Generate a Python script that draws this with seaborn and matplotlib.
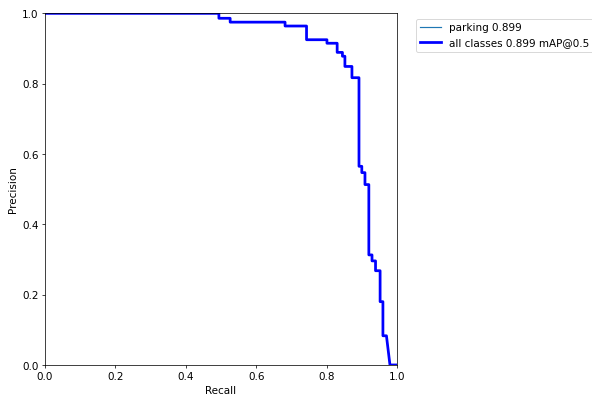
import numpy as np
import pandas as pd
import matplotlib
matplotlib.use("Agg")
import matplotlib.pyplot as plt
import seaborn as sns

# step levels: precision holds from each recall value onward
recall_steps = [0.0, 0.494, 0.526, 0.682, 0.743, 0.801, 0.83, 0.845, 0.852, 0.872,
                0.892, 0.9, 0.909, 0.92, 0.929, 0.939, 0.952, 0.96, 0.97]
precision_steps = [1.0, 0.986, 0.975, 0.964, 0.925, 0.915, 0.889, 0.878, 0.849, 0.817,
                   0.565, 0.547, 0.513, 0.313, 0.296, 0.268, 0.18, 0.083, 0.083]
recall_end = [0.98, 1.0]
precision_end = [0.0, 0.0]

class_name = "parking"
ap_class = 0.899
map50 = 0.899

plt.rcParams["font.size"] = 11.3

# build the step path (corners) then the tail
r = [recall_steps[0]]
p = [precision_steps[0]]
for i in range(1, len(recall_steps)):
    r += [recall_steps[i], recall_steps[i]]
    p += [precision_steps[i - 1], precision_steps[i]]
r += recall_end
p += precision_end
curve = pd.DataFrame({"Recall": r, "Precision": p})

fig = plt.figure(figsize=(9, 6), dpi=592 / 9)
ax = fig.add_axes([45 / 592, 1 - 365 / 394, 352 / 592, 351 / 394])

sns.lineplot(data=curve, x="Recall", y="Precision", sort=False, estimator=None, ax=ax,
             linewidth=1.3, color="#1f77b4", label=f"{class_name} {ap_class:.3f}")
sns.lineplot(data=curve, x="Recall", y="Precision", sort=False, estimator=None, ax=ax,
             linewidth=3, color="blue", label=f"all classes {map50:.3f} mAP@0.5")

ax.set_xlim(0, 1)
ax.set_ylim(0, 1)
ax.set_xlabel("Recall")
ax.set_ylabel("Precision")
ax.legend(bbox_to_anchor=(1.04, 1), loc="upper left")

fig.savefig("out.png", dpi=592 / 9)
